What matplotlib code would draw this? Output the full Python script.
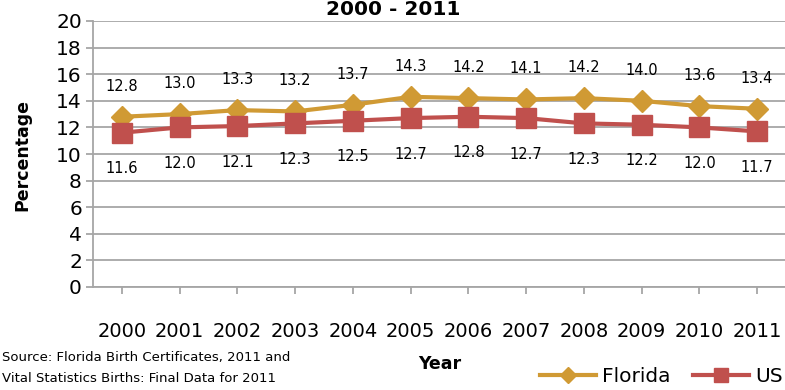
import numpy as np
import matplotlib.pyplot as plt

years = ['2000', '2001', '2002', '2003', '2004', '2005',
         '2006', '2007', '2008', '2009', '2010', '2011']
florida = [12.8, 13.0, 13.3, 13.2, 13.7, 14.3, 14.2, 14.1, 14.2, 14.0, 13.6, 13.4]
us = [11.6, 12.0, 12.1, 12.3, 12.5, 12.7, 12.8, 12.7, 12.3, 12.2, 12.0, 11.7]

gold = '#D09A34'
red = '#C0504D'
grid_col = '#A6A6A6'

fig = plt.figure(figsize=(7.85, 3.9), dpi=100)
ax = fig.add_axes([93/785, 1-287/390, 693/785, 266/390])

x = np.arange(len(years))
ax.plot(x, florida, color=gold, lw=3, marker='D', ms=11, label='Florida', zorder=3)
ax.plot(x, us, color=red, lw=3, marker='s', ms=14, label='US', zorder=3)

for xi, v in zip(x, florida):
    ax.annotate(f'{v:.1f}', (xi, v), xytext=(0, 22), textcoords='offset points',
                ha='center', va='center', fontsize=10.5)
for xi, v in zip(x, us):
    ax.annotate(f'{v:.1f}', (xi, v), xytext=(0, -26), textcoords='offset points',
                ha='center', va='center', fontsize=10.5)

ax.set_xlim(-0.5, 11.5)
ax.set_ylim(0, 20)
ax.set_yticks(np.arange(0, 21, 2))
ax.set_xticks(x)
ax.set_xticklabels(years)
ax.yaxis.grid(True, color=grid_col, lw=1.3)
ax.set_axisbelow(True)
for s in ['top', 'right']:
    ax.spines[s].set_visible(False)
for s in ['left', 'bottom']:
    ax.spines[s].set_color(grid_col)
    ax.spines[s].set_linewidth(1.3)
ax.tick_params(axis='y', length=5, width=1.3, color=grid_col, labelsize=14.5, pad=3)
ax.tick_params(axis='x', length=5, width=1.3, color=grid_col, labelsize=14, pad=20)

fig.text(22/785, 1-155/390, 'Percentage', rotation=90, ha='center', va='center',
         fontsize=12.5, fontweight='bold')
fig.text(393/785, 1-15/390, '2000 - 2011', ha='center', va='baseline',
         fontsize=14.5, fontweight='bold')
fig.text(440/785, 1-364/390, 'Year', ha='center', va='center',
         fontsize=12.5, fontweight='bold')
fig.text(2/785, 1-357/390, 'Source: Florida Birth Certificates, 2011 and',
         ha='left', va='center', fontsize=9.5)
fig.text(2/785, 1-379/390, 'Vital Statistics Births: Final Data for 2011',
         ha='left', va='center', fontsize=9.5)

fig.legend(loc='center right', bbox_to_anchor=(1.0, 1-377/390), ncol=2,
           frameon=False, fontsize=14.5, handlelength=2.8, columnspacing=1.1,
           handletextpad=0.3, borderaxespad=0, borderpad=0.1, markerscale=0.75)

fig.savefig('out.png', dpi=100)
